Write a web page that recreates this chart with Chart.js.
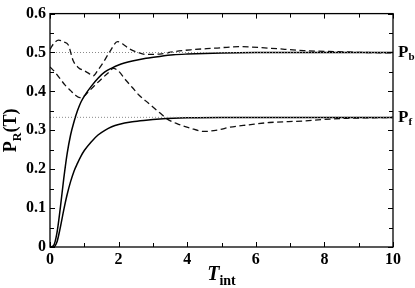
<!DOCTYPE html>
<html>
<head>
<meta charset="utf-8">
<script src="https://cdn.jsdelivr.net/npm/chart.js@4/dist/chart.umd.min.js"></script>
<style>
  html, body { margin: 0; padding: 0; background: #fff; }
</style>
</head>
<body>
<canvas id="c" width="415" height="288"></canvas>
<script>
// solid curves (shared time grid)
const tSolid = [0, 0.1, 0.2, 0.3, 0.4, 0.5, 0.6, 0.7, 0.8, 0.9, 1.0, 1.2, 1.4, 1.6, 1.8, 2.0, 2.4, 2.8, 3.2, 3.6, 4.0, 5.0, 6.0, 8.0, 10];
const solidB = [0, 0.003, 0.035, 0.10, 0.175, 0.24, 0.288, 0.322, 0.35, 0.372, 0.388, 0.413, 0.434, 0.45, 0.46, 0.468, 0.478, 0.485, 0.49, 0.494, 0.496, 0.499, 0.5, 0.5, 0.5];
const solidF = [0, 0, 0.012, 0.05, 0.095, 0.135, 0.168, 0.195, 0.215, 0.233, 0.248, 0.27, 0.288, 0.30, 0.309, 0.315, 0.322, 0.326, 0.329, 0.331, 0.332, 0.333, 0.333, 0.333, 0.333];

// dashed curves
const tDashB = [0, 0.1, 0.25, 0.4, 0.53, 0.68, 0.83, 1.0, 1.12, 1.26, 1.4, 1.55, 1.75, 1.97, 2.15, 2.3, 2.57, 2.8, 3.2, 3.6, 4.1, 4.8, 5.5, 6.4, 7.4, 8.4, 9.2, 10];
const dashB = [0.508, 0.522, 0.532, 0.527, 0.52, 0.478, 0.461, 0.453, 0.447, 0.44, 0.455, 0.474, 0.503, 0.528, 0.52, 0.51, 0.5, 0.495, 0.496, 0.502, 0.507, 0.511, 0.515, 0.511, 0.505, 0.502, 0.5, 0.499];
const tDashF = [0, 0.15, 0.3, 0.44, 0.6, 0.73, 0.87, 1.0, 1.12, 1.3, 1.5, 1.7, 1.85, 2.0, 2.2, 2.4, 2.6, 2.8, 3.0, 3.2, 3.4, 3.7, 4.08, 4.5, 4.9, 5.25, 5.8, 6.4, 7.4, 8.0, 8.65, 9.3, 10];
const dashF = [0.463, 0.449, 0.432, 0.416, 0.402, 0.391, 0.384, 0.388, 0.399, 0.415, 0.432, 0.448, 0.459, 0.452, 0.43, 0.41, 0.39, 0.375, 0.36, 0.345, 0.33, 0.317, 0.306, 0.297, 0.301, 0.308, 0.314, 0.32, 0.324, 0.328, 0.331, 0.332, 0.333];

// reference levels
const levelB = 0.5;
const levelF = 1 / 3;

const xTicks = [0, 2, 4, 6, 8, 10];
const yTicks = [0, 0.1, 0.2, 0.3, 0.4, 0.5, 0.6];

const SERIF = '"Liberation Serif", "DejaVu Serif", serif';

const pts = (xs, ys) => xs.map((x, i) => ({x: x, y: ys[i]}));
const flat = (v) => [{x: 0, y: v}, {x: 10, y: v}];

const frame = {
    id: 'frame',
    afterDraw(chart) {
        const {ctx, chartArea: a, scales: {x, y}} = chart;
        ctx.save();
        ctx.strokeStyle = '#000';
        ctx.lineWidth = 1.3;
        ctx.strokeRect(a.left, a.top, a.right - a.left, a.bottom - a.top);

        // inward ticks on all four sides
        ctx.lineWidth = 1;
        ctx.beginPath();
        for (let v = 0; v <= 10; v += 1) {
            const px = Math.round(x.getPixelForValue(v)) + 0.5;
            const len = v % 2 === 0 ? 5 : 4;
            ctx.moveTo(px, a.bottom); ctx.lineTo(px, a.bottom - len);
            ctx.moveTo(px, a.top); ctx.lineTo(px, a.top + len);
        }
        for (let k = 0; k <= 12; k++) {
            const py = Math.round(y.getPixelForValue(k * 0.05)) + 0.5;
            const len = k % 2 === 0 ? 5 : 4;
            ctx.moveTo(a.left, py); ctx.lineTo(a.left + len, py);
            ctx.moveTo(a.right, py); ctx.lineTo(a.right - len, py);
        }
        ctx.stroke();

        ctx.fillStyle = '#000';
        ctx.textBaseline = 'middle';
        ctx.textAlign = 'left';

        // level labels on the right
        const sideLabel = (sub, v) => {
            const py = y.getPixelForValue(v);
            ctx.font = 'bold 17px ' + SERIF;
            ctx.fillText('P', a.right + 5, py);
            const w = ctx.measureText('P').width;
            ctx.font = 'bold 11px ' + SERIF;
            ctx.fillText(sub, a.right + 5 + w, py + 5);
        };
        sideLabel('b', levelB);
        sideLabel('f', levelF);

        // x title: T_int
        ctx.font = 'italic bold 20px ' + SERIF;
        const wT = ctx.measureText('T').width;
        ctx.font = 'bold 14px ' + SERIF;
        const wi = ctx.measureText('int').width;
        const cx = (a.left + a.right) / 2;
        let sx = cx - (wT + wi) / 2;
        ctx.textBaseline = 'alphabetic';
        ctx.font = 'italic bold 20px ' + SERIF;
        ctx.fillText('T', sx, 280);
        ctx.font = 'bold 14px ' + SERIF;
        ctx.fillText('int', sx + wT, 285);

        // y title: P_R(T), rotated
        ctx.translate(16, (a.top + a.bottom) / 2);
        ctx.rotate(-Math.PI / 2);
        ctx.font = 'bold 18px ' + SERIF;
        const wP = ctx.measureText('P').width;
        const wPar = ctx.measureText('(T)').width;
        ctx.font = 'bold 12px ' + SERIF;
        const wR = ctx.measureText('R').width;
        sx = -(wP + wR + wPar) / 2;
        ctx.font = 'bold 18px ' + SERIF;
        ctx.fillText('P', sx, 0);
        ctx.fillText('(T)', sx + wP + wR, 0);
        ctx.font = 'bold 12px ' + SERIF;
        ctx.fillText('R', sx + wP, 5);
        ctx.restore();
    }
};

const lineStyle = {showLine: true, pointRadius: 0, fill: false, cubicInterpolationMode: 'monotone'};

new Chart(document.getElementById('c'), {
    type: 'scatter',
    data: {
        datasets: [
            {...lineStyle, data: flat(levelB), borderColor: '#8a8a8a', borderWidth: 1, borderDash: [1, 2]},
            {...lineStyle, data: flat(levelF), borderColor: '#8a8a8a', borderWidth: 1, borderDash: [1, 2]},
            {...lineStyle, data: pts(tSolid, solidB), borderColor: '#000', borderWidth: 1.5},
            {...lineStyle, data: pts(tSolid, solidF), borderColor: '#000', borderWidth: 1.5},
            {...lineStyle, data: pts(tDashB, dashB), borderColor: '#111', borderWidth: 1.3, borderDash: [6, 3.5]},
            {...lineStyle, data: pts(tDashF, dashF), borderColor: '#111', borderWidth: 1.3, borderDash: [6, 3.5]}
        ]
    },
    options: {
        responsive: false,
        devicePixelRatio: 1,
        animation: false,
        layout: {padding: {top: 6, right: 22, left: 0, bottom: 0}},
        plugins: {legend: {display: false}, tooltip: {enabled: false}},
        scales: {
            x: {
                type: 'linear', min: 0, max: 10,
                afterFit: (s) => { s.height = 41; },
                afterBuildTicks: (s) => { s.ticks = xTicks.map(v => ({value: v})); },
                grid: {display: false, drawTicks: false},
                border: {display: false},
                ticks: {padding: 3, color: '#000', font: {family: SERIF, size: 16, weight: 'bold'}, maxRotation: 0}
            },
            y: {
                type: 'linear', min: 0, max: 0.6,
                afterFit: (s) => { s.width = 50; },
                afterBuildTicks: (s) => { s.ticks = yTicks.map(v => ({value: v})); },
                grid: {display: false, drawTicks: false},
                border: {display: false},
                ticks: {padding: 4, color: '#000', font: {family: SERIF, size: 16, weight: 'bold'},
                    callback: (v) => v === 0 ? '0' : v.toFixed(1)}
            }
        }
    },
    plugins: [frame]
});
</script>
</body>
</html>
